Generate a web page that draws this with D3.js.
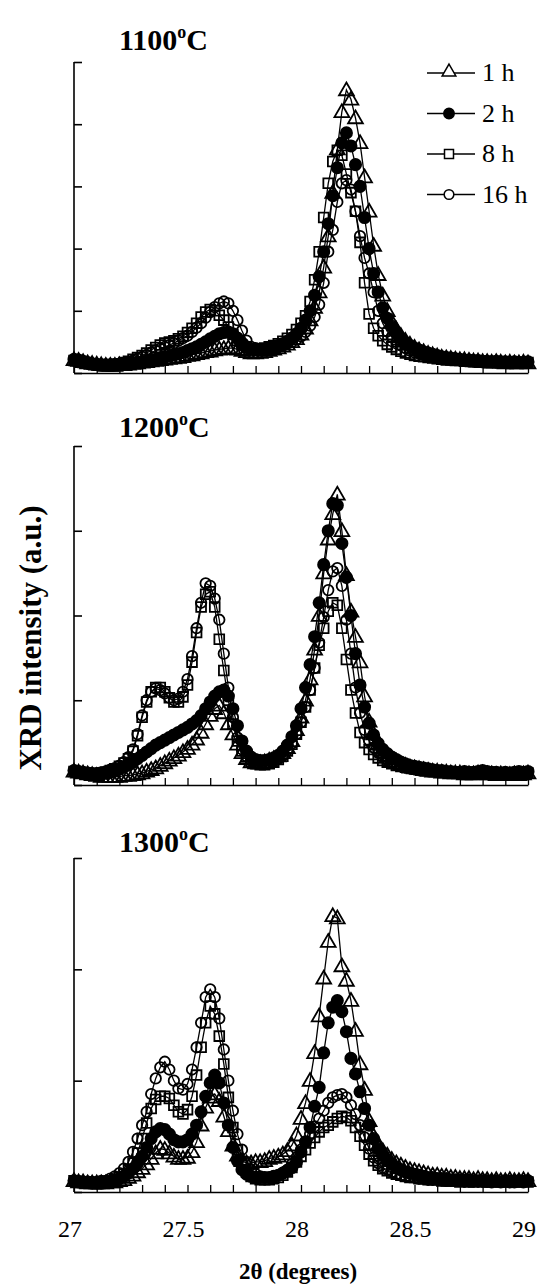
<!DOCTYPE html>
<html>
<head>
<meta charset="utf-8">
<script src="https://cdn.jsdelivr.net/npm/d3@7"></script>
<style>
body{margin:0;background:#fff;}
</style>
</head>
<body>
<script>
//2-theta grid shared by every scan
var theta = [27,27.02,27.04,27.06,27.08,27.1,27.12,27.14,27.16,27.18,
27.2,27.22,27.24,27.26,27.28,27.3,27.32,27.34,27.36,27.38,
27.4,27.42,27.44,27.46,27.48,27.5,27.52,27.54,27.56,27.58,
27.6,27.62,27.64,27.66,27.68,27.7,27.72,27.74,27.76,27.78,
27.8,27.82,27.84,27.86,27.88,27.9,27.92,27.94,27.96,27.98,
28,28.02,28.04,28.06,28.08,28.1,28.12,28.14,28.16,28.18,
28.2,28.22,28.24,28.26,28.28,28.3,28.32,28.34,28.36,28.38,
28.4,28.42,28.44,28.46,28.48,28.5,28.52,28.54,28.56,28.58,
28.6,28.62,28.64,28.66,28.68,28.7,28.72,28.74,28.76,28.78,
28.8,28.82,28.84,28.86,28.88,28.9,28.92,28.94,28.96,28.98,
29];

var seriesNames = ["1 h","2 h","8 h","16 h"];
var panelTitles = ["1100","1200","1300"];
var xLabels = [27,27.5,28,28.5,29];

//1100 C
var p1h1 = [0.21,0.20,0.18,0.16,0.15,0.14,0.13,0.12,0.12,0.12,
0.13,0.13,0.14,0.15,0.16,0.17,0.18,0.19,0.20,0.21,
0.22,0.23,0.24,0.25,0.26,0.28,0.29,0.31,0.32,0.34,
0.35,0.37,0.38,0.39,0.40,0.40,0.38,0.36,0.34,0.32,
0.32,0.33,0.34,0.36,0.38,0.40,0.43,0.46,0.50,0.55,
0.62,0.72,0.85,1.05,1.30,1.70,2.20,2.90,3.60,4.20,
4.55,4.40,4.10,3.70,3.15,2.60,2.05,1.58,1.25,1.00,
0.82,0.70,0.60,0.52,0.46,0.41,0.37,0.34,0.31,0.29,
0.27,0.25,0.24,0.23,0.22,0.21,0.21,0.20,0.19,0.19,
0.18,0.18,0.17,0.18,0.17,0.16,0.17,0.16,0.16,0.17,0.16];
var p1h2 = [0.22,0.21,0.19,0.17,0.15,0.14,0.13,0.13,0.13,0.13,
0.14,0.14,0.15,0.16,0.17,0.18,0.19,0.21,0.22,0.24,
0.26,0.27,0.29,0.31,0.33,0.36,0.39,0.42,0.46,0.50,
0.55,0.59,0.63,0.65,0.66,0.63,0.56,0.48,0.42,0.38,
0.37,0.37,0.38,0.39,0.41,0.44,0.47,0.51,0.56,0.63,
0.72,0.85,1.00,1.25,1.55,1.95,2.40,2.85,3.30,3.70,
3.86,3.65,3.35,3.00,2.50,2.00,1.60,1.30,1.05,0.88,
0.75,0.64,0.56,0.49,0.44,0.40,0.37,0.34,0.32,0.30,
0.28,0.26,0.25,0.24,0.23,0.22,0.21,0.21,0.20,0.20,
0.19,0.19,0.18,0.19,0.18,0.18,0.17,0.18,0.17,0.17,0.18];
var p1h8 = [0.20,0.19,0.17,0.16,0.14,0.13,0.13,0.12,0.13,0.14,
0.15,0.17,0.19,0.22,0.25,0.28,0.32,0.37,0.41,0.45,
0.48,0.50,0.52,0.55,0.59,0.65,0.72,0.80,0.90,0.98,
1.02,1.00,0.93,0.85,0.74,0.62,0.52,0.45,0.41,0.38,
0.38,0.39,0.40,0.42,0.44,0.47,0.51,0.56,0.62,0.70,
0.80,0.92,1.15,1.50,1.95,2.50,3.05,3.40,3.58,3.50,
3.20,2.90,2.60,2.10,1.45,0.95,0.72,0.60,0.52,0.46,
0.42,0.38,0.35,0.32,0.30,0.28,0.27,0.26,0.25,0.24,
0.23,0.22,0.21,0.21,0.20,0.20,0.19,0.19,0.18,0.18,
0.18,0.17,0.17,0.18,0.17,0.16,0.17,0.16,0.17,0.16,0.17];
var p1h16 = [0.21,0.20,0.18,0.16,0.15,0.14,0.13,0.13,0.13,0.14,
0.15,0.16,0.18,0.20,0.23,0.26,0.29,0.33,0.36,0.39,
0.42,0.45,0.48,0.52,0.56,0.60,0.66,0.73,0.80,0.89,
0.98,1.06,1.12,1.15,1.12,1.00,0.85,0.68,0.52,0.42,
0.40,0.38,0.38,0.39,0.40,0.42,0.44,0.47,0.50,0.54,
0.59,0.66,0.76,0.90,1.10,1.45,1.95,2.30,2.75,3.05,
3.10,2.95,2.60,2.20,1.85,1.60,1.30,1.00,0.80,0.67,
0.58,0.50,0.45,0.40,0.36,0.33,0.31,0.29,0.27,0.26,
0.25,0.24,0.23,0.22,0.21,0.21,0.20,0.20,0.19,0.19,
0.18,0.18,0.18,0.17,0.18,0.17,0.16,0.17,0.17,0.16,0.17];

//1200 C
var p2h1 = [0.16,0.15,0.14,0.13,0.12,0.11,0.10,0.10,0.10,0.10,
0.10,0.11,0.11,0.12,0.13,0.14,0.16,0.18,0.20,0.23,
0.26,0.29,0.32,0.35,0.39,0.43,0.48,0.54,0.62,0.72,
0.82,0.90,0.94,0.85,0.72,0.60,0.48,0.38,0.31,0.27,
0.26,0.26,0.27,0.29,0.31,0.34,0.38,0.44,0.52,0.65,
0.80,1.00,1.25,1.60,2.00,2.50,2.90,3.20,3.43,3.00,
2.48,2.05,1.75,1.45,1.05,0.75,0.60,0.49,0.41,0.35,
0.31,0.28,0.25,0.23,0.21,0.20,0.19,0.18,0.17,0.16,
0.16,0.15,0.15,0.14,0.14,0.14,0.13,0.13,0.13,0.14,
0.14,0.13,0.13,0.12,0.13,0.12,0.12,0.13,0.12,0.13,0.14];
var p2h2 = [0.17,0.16,0.15,0.14,0.13,0.13,0.13,0.14,0.15,0.17,
0.19,0.21,0.24,0.27,0.31,0.35,0.39,0.43,0.47,0.50,
0.53,0.56,0.59,0.62,0.65,0.68,0.72,0.76,0.82,0.90,
0.98,1.05,1.10,1.12,1.05,0.90,0.70,0.52,0.40,0.33,
0.30,0.29,0.29,0.30,0.32,0.35,0.40,0.47,0.57,0.70,
0.90,1.15,1.42,1.75,2.15,2.60,3.00,3.32,3.30,2.85,
2.45,2.00,1.55,1.18,0.92,0.73,0.59,0.49,0.42,0.37,
0.33,0.30,0.27,0.25,0.23,0.22,0.21,0.20,0.19,0.18,
0.17,0.17,0.16,0.16,0.15,0.15,0.16,0.15,0.15,0.16,
0.17,0.16,0.15,0.15,0.14,0.15,0.14,0.15,0.16,0.15,0.16];
var p2h8 = [0.16,0.15,0.14,0.14,0.13,0.13,0.14,0.15,0.17,0.19,
0.22,0.26,0.31,0.40,0.58,0.80,0.98,1.10,1.15,1.15,
1.10,1.03,0.98,0.98,1.04,1.18,1.45,1.80,2.10,2.25,
2.28,2.10,1.72,1.35,1.00,0.72,0.52,0.40,0.33,0.28,
0.25,0.24,0.24,0.25,0.27,0.30,0.34,0.40,0.48,0.60,
0.74,0.92,1.12,1.38,1.65,1.85,2.05,2.15,2.12,1.85,
1.48,1.12,0.85,0.62,0.50,0.42,0.36,0.32,0.29,0.27,
0.25,0.23,0.22,0.21,0.20,0.19,0.18,0.17,0.17,0.16,
0.16,0.15,0.15,0.14,0.14,0.15,0.14,0.14,0.13,0.14,
0.14,0.13,0.13,0.14,0.13,0.12,0.13,0.13,0.12,0.13,0.14];
var p2h16 = [0.17,0.16,0.15,0.14,0.14,0.14,0.15,0.16,0.18,0.20,
0.23,0.27,0.33,0.42,0.60,0.82,1.00,1.10,1.14,1.12,
1.08,1.03,1.00,1.02,1.10,1.25,1.52,1.85,2.15,2.38,
2.35,2.20,1.95,1.55,1.15,0.80,0.56,0.42,0.34,0.29,
0.26,0.25,0.25,0.26,0.28,0.31,0.35,0.41,0.49,0.60,
0.74,0.92,1.12,1.38,1.68,1.98,2.30,2.52,2.56,2.35,
1.95,1.55,1.15,0.85,0.65,0.52,0.44,0.38,0.33,0.30,
0.27,0.25,0.23,0.22,0.21,0.20,0.19,0.18,0.17,0.17,
0.16,0.16,0.15,0.15,0.15,0.14,0.15,0.14,0.14,0.15,
0.14,0.14,0.13,0.14,0.14,0.13,0.13,0.14,0.13,0.14,0.15];

//1300 C
var p3h1 = [0.10,0.09,0.09,0.08,0.08,0.08,0.08,0.08,0.09,0.09,
0.10,0.11,0.13,0.15,0.18,0.21,0.25,0.30,0.35,0.39,
0.38,0.35,0.32,0.30,0.30,0.31,0.36,0.45,0.60,0.76,
0.85,0.88,0.82,0.68,0.55,0.42,0.33,0.28,0.26,0.26,
0.27,0.27,0.28,0.30,0.31,0.32,0.34,0.37,0.42,0.51,
0.66,0.80,1.00,1.25,1.58,1.92,2.25,2.48,2.46,2.03,
1.90,1.72,1.45,1.15,0.92,0.64,0.50,0.42,0.37,0.33,
0.29,0.26,0.24,0.22,0.20,0.19,0.18,0.17,0.16,0.15,
0.15,0.14,0.14,0.13,0.13,0.12,0.12,0.12,0.11,0.12,
0.11,0.11,0.10,0.11,0.10,0.10,0.11,0.10,0.10,0.11,0.10];
var p3h2 = [0.10,0.09,0.09,0.09,0.08,0.08,0.08,0.09,0.09,0.10,
0.12,0.14,0.17,0.21,0.26,0.32,0.40,0.48,0.54,0.57,
0.56,0.52,0.47,0.45,0.45,0.47,0.52,0.60,0.72,0.86,
0.98,1.05,0.98,0.80,0.60,0.40,0.28,0.20,0.16,0.14,
0.13,0.13,0.13,0.13,0.14,0.15,0.17,0.19,0.22,0.27,
0.36,0.45,0.58,0.77,0.94,1.25,1.52,1.66,1.72,1.62,
1.44,1.20,1.06,0.90,0.75,0.60,0.48,0.39,0.33,0.28,
0.25,0.22,0.20,0.18,0.17,0.16,0.15,0.14,0.13,0.13,
0.12,0.12,0.12,0.11,0.11,0.11,0.10,0.11,0.10,0.10,
0.10,0.10,0.09,0.10,0.09,0.10,0.09,0.09,0.10,0.09,0.10];
var p3h8 = [0.10,0.09,0.09,0.08,0.08,0.08,0.09,0.09,0.10,0.11,
0.13,0.16,0.20,0.26,0.35,0.48,0.62,0.75,0.83,0.86,
0.86,0.84,0.78,0.72,0.70,0.74,0.86,1.05,1.30,1.52,
1.67,1.60,1.40,1.15,0.85,0.58,0.38,0.26,0.18,0.14,
0.12,0.11,0.11,0.11,0.12,0.13,0.15,0.18,0.22,0.27,
0.32,0.38,0.44,0.49,0.54,0.58,0.60,0.63,0.66,0.68,
0.67,0.64,0.58,0.50,0.42,0.34,0.28,0.24,0.21,0.19,
0.17,0.16,0.15,0.14,0.13,0.13,0.12,0.12,0.11,0.11,
0.11,0.10,0.10,0.10,0.10,0.09,0.10,0.09,0.09,0.10,
0.09,0.09,0.10,0.09,0.09,0.09,0.10,0.09,0.09,0.10,0.09];
var p3h16 = [0.10,0.10,0.09,0.09,0.09,0.09,0.10,0.10,0.12,0.14,
0.17,0.21,0.27,0.36,0.48,0.60,0.72,0.88,1.02,1.12,
1.17,1.10,1.00,0.93,0.92,0.97,1.10,1.30,1.52,1.75,
1.82,1.75,1.56,1.28,1.00,0.73,0.52,0.38,0.27,0.20,
0.16,0.14,0.13,0.13,0.14,0.15,0.17,0.20,0.25,0.31,
0.38,0.45,0.52,0.59,0.66,0.73,0.80,0.85,0.87,0.88,
0.85,0.78,0.70,0.60,0.49,0.39,0.31,0.26,0.22,0.20,
0.18,0.16,0.15,0.14,0.14,0.13,0.12,0.12,0.11,0.11,
0.11,0.11,0.10,0.10,0.10,0.10,0.11,0.10,0.10,0.10,
0.10,0.09,0.10,0.10,0.09,0.10,0.09,0.10,0.10,0.09,0.10];

var width = 538, height = 1284;
var serif = "'Liberation Serif', 'Times New Roman', Times, serif";

//panel frames (layout only)
var panels = [
    {title: panelTitles[0], data: [p1h1, p1h2, p1h8, p1h16], yMax: 5, top: 62, bottom: 373, titleY: 50},
    {title: panelTitles[1], data: [p2h1, p2h2, p2h8, p2h16], yMax: 4, top: 446, bottom: 785, titleY: 437},
    {title: panelTitles[2], data: [p3h1, p3h2, p3h8, p3h16], yMax: 3, top: 858, bottom: 1192, titleY: 852}
];

//marker style per series: open triangle, filled circle, open square, open circle
var markers = [
    {type: d3.symbolTriangle, size: 95, fill: "none"},
    {type: d3.symbolCircle, size: 100, fill: "#000"},
    {type: d3.symbolSquare, size: 95, fill: "none"},
    {type: d3.symbolCircle, size: 86, fill: "none"}
];

var svg = d3.select("body")
    .append("svg")
    .attr("width", width)
    .attr("height", height)
    .style("font-family", serif);

svg.append("rect").attr("width", width).attr("height", height).attr("fill", "#fff");

var x = d3.scaleLinear()
    .domain([27, 29])
    .range([74, 528]);

panels.forEach(function(p, pi){
    var y = d3.scaleLinear()
        .domain([0, p.yMax])
        .range([p.bottom, p.top]);

    var g = svg.append("g");

    //data: lines and markers
    p.data.forEach(function(vals, si){
        var pts = theta.map(function(t, i){ return [t, vals[i]]; });
        var line = d3.line()
            .x(function(d){ return x(d[0]); })
            .y(function(d){ return y(d[1]); });
        g.append("path")
            .datum(pts)
            .attr("d", line)
            .attr("fill", "none")
            .attr("stroke", "#000")
            .attr("stroke-width", 1.3);
        var m = markers[si];
        var sym = d3.symbol().type(m.type).size(m.size);
        g.selectAll(".m" + si)
            .data(pts)
            .enter()
            .append("path")
            .attr("class", "m" + si)
            .attr("d", sym)
            .attr("transform", function(d){
                var dy = m.type === d3.symbolTriangle ? 1 : 0;
                return "translate(" + x(d[0]) + "," + (y(d[1]) + dy) + ")";
            })
            .attr("fill", m.fill)
            .attr("stroke", "#000")
            .attr("stroke-width", 1.8);
    });

    //y axis with inward ticks, no labels
    var yAxis = d3.axisLeft(y)
        .ticks(p.yMax)
        .tickSize(-8)
        .tickFormat("");
    var ya = g.append("g")
        .attr("transform", "translate(74,0)")
        .call(yAxis);
    ya.select(".domain").attr("stroke-width", 1.6).attr("d", "M0," + p.top + "V" + p.bottom);
    ya.selectAll(".tick line").attr("stroke-width", 1.6);

    //x axis with minor inward ticks every 0.1
    var xAxis = d3.axisBottom(x)
        .ticks(20)
        .tickSize(-7)
        .tickSizeOuter(0)
        .tickFormat("");
    var xa = g.append("g")
        .attr("transform", "translate(0," + p.bottom + ")")
        .call(xAxis);
    xa.select(".domain").attr("stroke-width", 1.6);
    xa.selectAll(".tick line").attr("stroke-width", 1.3);

    //panel title
    var t = g.append("text")
        .attr("x", 119)
        .attr("y", p.titleY)
        .style("font-family", serif)
        .attr("font-size", "30px")
        .attr("font-weight", "bold");
    t.append("tspan").text(p.title);
    t.append("tspan").attr("font-size", "18px").attr("dy", "-12").text("o");
    t.append("tspan").attr("dy", "12").text("C");

    //tick labels only under the last panel
    if (pi === panels.length - 1){
        g.selectAll(".xl")
            .data(xLabels)
            .enter()
            .append("text")
            .attr("class", "xl")
            .attr("x", function(d){ return x(d) - 4; })
            .attr("y", 1237)
            .attr("text-anchor", "middle")
            .style("font-family", serif)
            .attr("font-size", "24px")
            .text(function(d){ return d; });
    }
});

//legend in the top panel
var legend = svg.append("g");
seriesNames.forEach(function(name, si){
    var ly = 73 + si * 40.5;
    legend.append("line")
        .attr("x1", 427).attr("x2", 475)
        .attr("y1", ly).attr("y2", ly)
        .attr("stroke", "#000").attr("stroke-width", 1.5);
    var m = markers[si];
    legend.append("path")
        .attr("d", d3.symbol().type(m.type).size(m.size * 0.85)())
        .attr("transform", "translate(449," + (ly + (m.type === d3.symbolTriangle ? -1 : 0)) + ")")
        .attr("fill", m.fill === "none" ? "#fff" : m.fill)
        .attr("stroke", "#000")
        .attr("stroke-width", 1.5);
    legend.append("text")
        .attr("x", 482)
        .attr("y", ly + 8)
        .style("font-family", serif)
        .attr("font-size", "26px")
        .text(name);
});

//axis titles
svg.append("text")
    .attr("transform", "translate(41,638) rotate(-90)")
    .attr("text-anchor", "middle")
    .style("font-family", serif)
    .attr("font-size", "31px")
    .attr("font-weight", "bold")
    .text("XRD intensity (a.u.)");

svg.append("text")
    .attr("x", 298)
    .attr("y", 1279)
    .attr("text-anchor", "middle")
    .style("font-family", serif)
    .attr("font-size", "23px")
    .attr("font-weight", "bold")
    .text("2θ (degrees)");
</script>
</body>
</html>
